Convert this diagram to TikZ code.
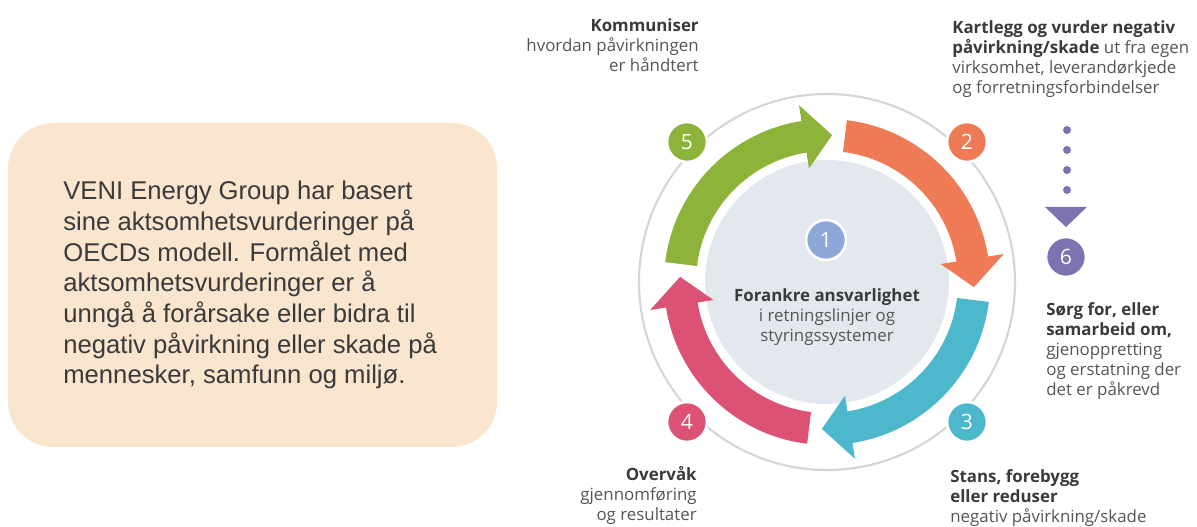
\documentclass[tikz,border=0pt]{standalone}
\usepackage{fontspec}
\setmainfont{Open Sans}
\newfontfamily\cajafont{Liberation Sans}
\usetikzlibrary{positioning}
\definecolor{verde}{HTML}{8DB33A}
\definecolor{naranja}{HTML}{EE7B56}
\definecolor{turquesa}{HTML}{4DB8CB}
\definecolor{rosa}{HTML}{DC5274}
\definecolor{morado}{HTML}{7B74B0}
\definecolor{azul}{HTML}{8DA8D8}
\definecolor{disco}{HTML}{E3E7EE}
\definecolor{anillo}{HTML}{D3D5DB}
\definecolor{caja}{HTML}{FAE5CF}
\definecolor{gris}{HTML}{555555}
\definecolor{oscuro}{HTML}{3A3A3A}
\tikzset{
	x=0.02cm, y=0.02cm, % 1 unidad = 1 pixel
	numero/.style={circle, fill=#1, draw=white, line width=1.5pt, minimum size=0.8cm, inner sep=0pt, text=white, font=\fontsize{12}{12}\selectfont}, % circulos numerados
	etiqueta/.style={inner sep=0pt, text=gris, font=\fontsize{9.6}{11.4}\selectfont} % textos del ciclo
}
% flecha curva: color, angulo inicial, angulo de la punta
\newcommand{\flecha}[3]{%
	\fill[#1] (#2:163) arc[start angle=#2, end angle=#3+11, radius=163]
		-- (#3+11:179) -- (#3:147) -- (#3+11:115) -- (#3+11:131)
		arc[start angle=#3+11, end angle=#2, radius=131] -- cycle;}

\begin{document}
\begin{tikzpicture}
	\useasboundingbox (0,0) rectangle (1197,527);
	% cuadro de texto
	\fill[caja, rounded corners=0.9cm] (8,80) rectangle (497,404);
	\node[anchor=base west, align=left, inner sep=0pt, text=oscuro, font=\cajafont\fontsize{14.6}{17.5}\selectfont] (veni) at (63,143)
		{VENI Energy Group har basert\\ sine aktsomhetsvurderinger på\\ OECDs modell. Formålet med\\ aktsomhetsvurderinger er å\\ unngå å forårsake eller bidra til\\ negativ påvirkning eller skade på\\ mennesker, samfunn og miljø.};
	% ciclo
	\coordinate (centro) at (827,245);
	\draw[anillo, line width=1.2pt] (centro) circle[radius=188];
	\node[circle, fill=disco, minimum size=4.88cm, inner sep=0pt] (kjerne) at (centro) {};
	\begin{scope}[shift={(centro)}]
		\flecha{verde}{173}{88}
		\flecha{naranja}{83}{-2}
		\flecha{turquesa}{-7}{-92}
		\flecha{rosa}{-97}{-182}
	\end{scope}
	\node[numero=azul] (n1) at (826,287) {1};
	\node[numero=naranja] (n2) at ([shift={(45:198)}]centro) {2};
	\node[numero=turquesa] (n3) at ([shift={(-45:198)}]centro) {3};
	\node[numero=rosa] (n4) at ([shift={(-135:198)}]centro) {4};
	\node[numero=verde] (n5) at ([shift={(135:198)}]centro) {5};
	\node[numero=morado] (n6) at (1066,270) {6};
	% puntos y triangulo hacia el paso 6
	\foreach \y in {397,377,357,337}
		\fill[morado] (1067,\y) circle[radius=4];
	\fill[morado] (1045,320) -- (1087,320) -- (n6.north |- 0,300) -- cycle;
	% textos
	\node[etiqueta, align=center, anchor=base] (forankre) at (827,185)
		{\textcolor{oscuro}{\bfseries Forankre ansvarlighet}\\ i retningslinjer og\\ styringssystemer};
	\node[etiqueta, align=left, anchor=base west] (kartlegg) at (952,433)
		{\textcolor{oscuro}{\bfseries Kartlegg og vurder negativ}\\ \textcolor{oscuro}{\bfseries påvirkning/skade} ut fra egen\\ virksomhet, leverandørkjede\\ og forretningsforbindelser};
	\node[etiqueta, align=right, anchor=base east] (kommuniser) at (699,455)
		{\textcolor{oscuro}{\bfseries Kommuniser}\\ hvordan påvirkningen\\ er håndtert};
	\node[etiqueta, align=right, anchor=base east] (overvak) at (697,6)
		{\textcolor{oscuro}{\bfseries Overvåk}\\ gjennomføring\\ og resultater};
	\node[etiqueta, align=left, anchor=base west] (stans) at (950,4)
		{\textcolor{oscuro}{\bfseries Stans, forebygg}\\ \textcolor{oscuro}{\bfseries eller reduser}\\ negativ påvirkning/skade};
	\node[etiqueta, align=left, anchor=base west] (sorg) at (1046,131)
		{\textcolor{oscuro}{\bfseries Sørg for, eller}\\ \textcolor{oscuro}{\bfseries samarbeid om,}\\ gjenoppretting\\ og erstatning der\\ det er påkrevd};
\end{tikzpicture}
\end{document}
